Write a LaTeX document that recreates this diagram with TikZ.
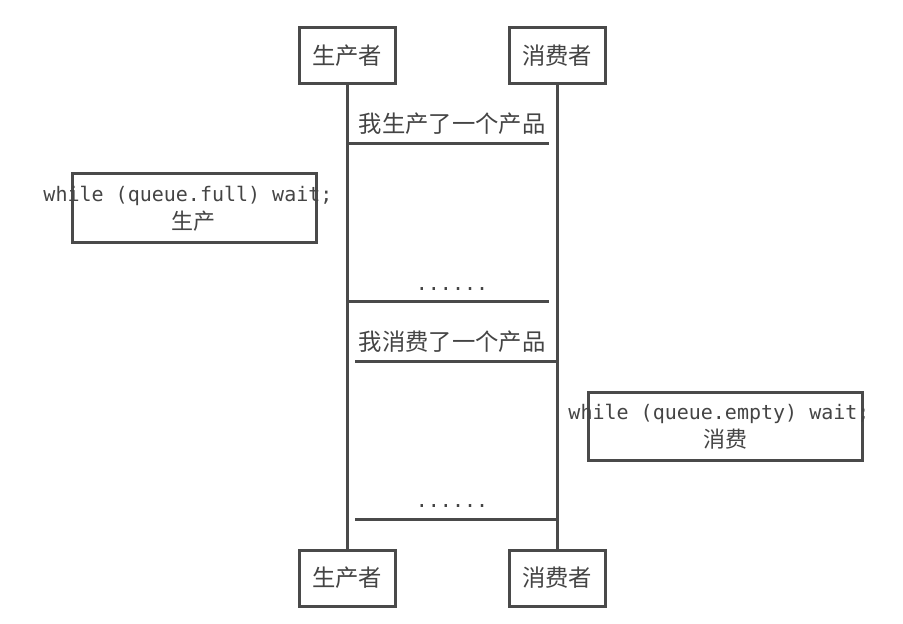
\documentclass[tikz,border=0pt]{standalone}
\usepackage{fontspec}
\newfontfamily\cjk{Noto Sans CJK SC}
\setmonofont{DejaVu Sans Mono}
\usetikzlibrary{positioning}
\definecolor{inkgrey}{HTML}{4A4A4A}
\definecolor{textgrey}{HTML}{444444}
\tikzset{
  every node/.style={font=\cjk\fontsize{17.5}{20}\selectfont, text=textgrey},
  actor/.style={rectangle, draw=inkgrey, line width=2.25pt, fill=white,
    minimum width=72pt, minimum height=42pt, inner sep=0pt},
  life/.style={draw=inkgrey, line width=2.25pt},
  msg/.style={draw=inkgrey, line width=2.25pt},
  msglabel/.style={anchor=base, inner sep=0pt},
  dots/.style={msglabel, font=\ttfamily\fontsize{15}{18}\selectfont},
  notebox/.style={rectangle, draw=inkgrey, line width=2.25pt,
    inner sep=0pt},
  notetext/.style={align=center, inner sep=0pt,
    font=\fontsize{15}{21}\selectfont},
}
\begin{document}
\begin{tikzpicture}[x=0.75pt,y=-0.75pt]
\useasboundingbox (0,0) rectangle (903,624);

% ---- Participants ----------------------------------------------------------
\node[actor] (ptop) at (347,56) {生产者};
\node[actor] (ctop) at (557,56) {消费者};
\node[actor] (pbot) at (347,578) {生产者};
\node[actor] (cbot) at (557,578) {消费者};

\foreach \n in {p,c}
  \draw[life] (\n top.south) -- (\n bot.north);

% ---- Messages --------------------------------------------------------------
\node[msglabel] (m1) at (452,133) {我生产了一个产品};
\node[dots] (d1) at (452,290) {......};
\node[msglabel] (m2) at (452,350) {我消费了一个产品};
\node[dots] (d2) at (452,507) {......};

\foreach \y/\xa/\xb [count=\i] in {144/347/549, 301/347/549, 361/557/355, 519/557/355} {
  \coordinate (s\i) at (\xa,\y);
  \coordinate (e\i) at (\xb,\y);
  \draw[msg] (s\i) -- (e\i);
}

% ---- Notes -----------------------------------------------------------------
\node[notebox, minimum width=183pt, minimum height=51pt] (n1) at (194,208) {};
\node[notetext] (n1t) at (194,209)
  {\ttfamily while (queue.full) wait;\hphantom{;}\\
   \cjk\fontsize{16.5}{21}\selectfont 生产};
\node[notebox, minimum width=205.5pt, minimum height=51pt] (n2) at (725,426) {};
\node[notetext] (n2t) at (725,427)
  {\ttfamily while (queue.empty) wait;\hphantom{;}\\
   \cjk\fontsize{16.5}{21}\selectfont 消费};

\end{tikzpicture}
\end{document}
